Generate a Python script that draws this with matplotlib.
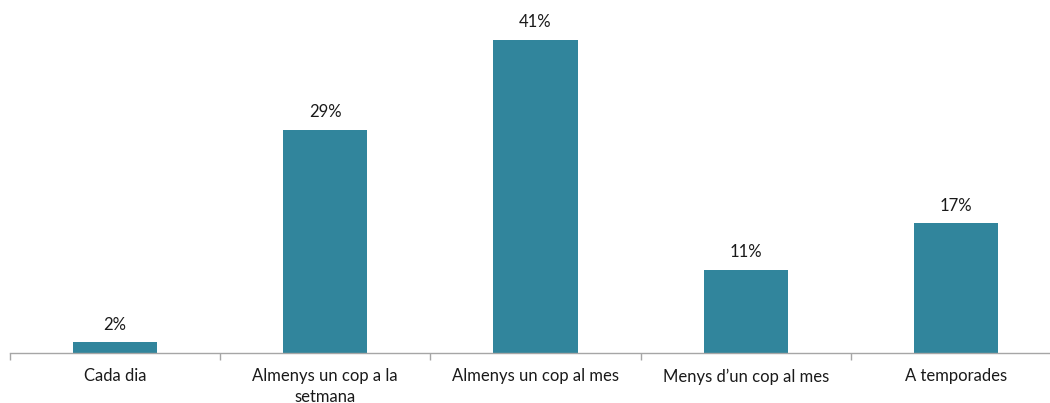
import matplotlib.pyplot as plt
import numpy as np

# dades
categories = ['Cada dia', 'Almenys un cop a la\nsetmana', 'Almenys un cop al mes',
              'Menys d\u2019un cop al mes', 'A temporades']
values = [1.4, 29.2, 41.0, 10.9, 17.0]
value_labels = ['2%', '29%', '41%', '11%', '17%']

plt.rcParams['font.family'] = ['Lato', 'DejaVu Sans']

fig = plt.figure(figsize=(10.5, 4.03), dpi=100)
# eix en píxels: x de 10 a 1061, y de 353 (base) cap amunt
ax = fig.add_axes([10 / 1050, 50 / 403, 1051 / 1050, 343.4 / 403])

x = np.arange(len(categories))
bars = ax.bar(x, values, width=0.4, color='#31859C')

for b, lab in zip(bars, value_labels):
    ax.annotate(lab, (b.get_x() + b.get_width() / 2, b.get_height()),
                xytext=(0, 7), textcoords='offset points',
                ha='center', va='bottom', fontsize=12, color='#1a1a1a')

ax.set_xlim(-0.5, len(categories) - 0.5)
ax.set_ylim(0, 45)

ax.set_xticks(x)
ax.set_xticklabels(categories, fontsize=12, color='#1a1a1a', linespacing=1.35)
ax.tick_params(axis='x', which='major', length=0, pad=11)
ax.set_xticks(np.arange(-0.5, len(categories)), minor=True)
ax.tick_params(axis='x', which='minor', length=5, width=1, color='#a6a6a6', direction='out')
ax.set_yticks([])

for s in ['top', 'right', 'left']:
    ax.spines[s].set_visible(False)
ax.spines['bottom'].set_color('#a6a6a6')
ax.spines['bottom'].set_linewidth(1)

fig.savefig('out.png', dpi=100)
